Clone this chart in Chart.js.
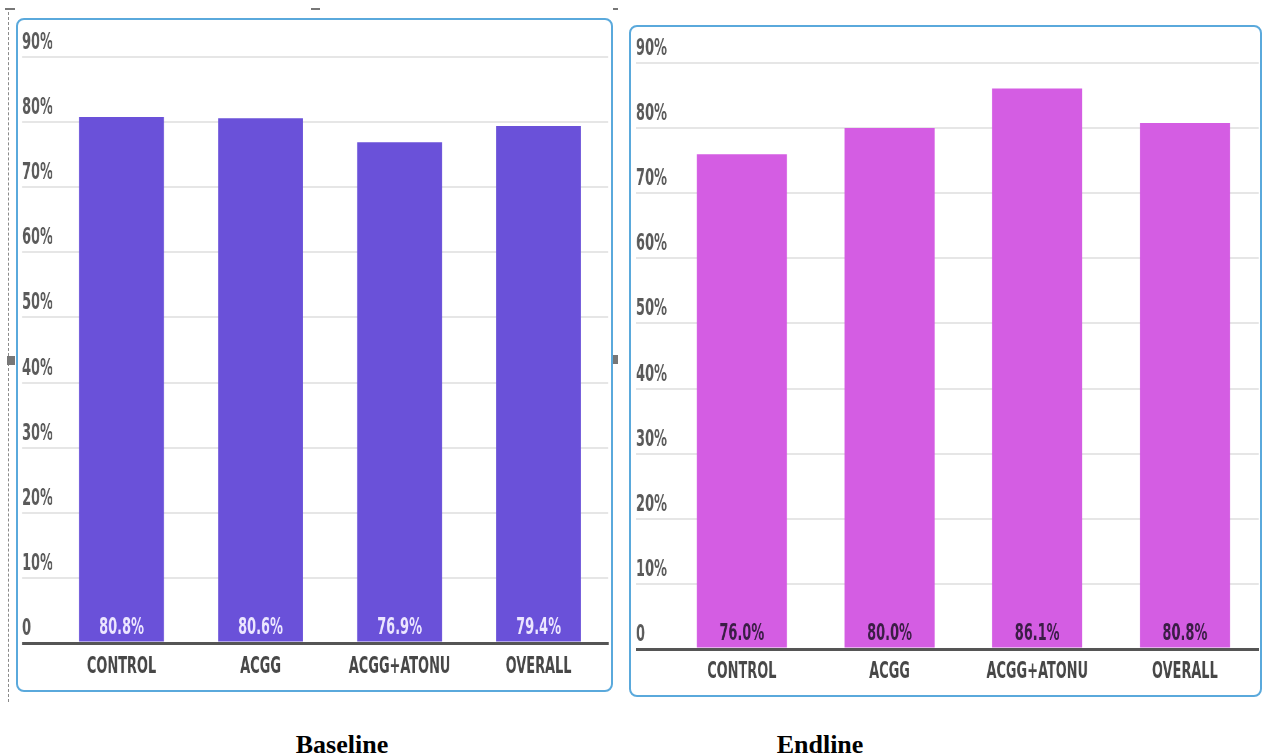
<!DOCTYPE html>
<html><head><meta charset="utf-8">
<script src="https://cdn.jsdelivr.net/npm/chart.js@4.4.1/dist/chart.umd.min.js"></script>
<style>
html,body{margin:0;padding:0;background:#fff;width:1263px;height:756px;overflow:hidden;position:relative}
.panel{position:absolute;border:2px solid #5aa9dc;border-radius:8px;overflow:hidden;box-sizing:border-box;background:#fff}
.panel canvas{position:absolute;left:0;top:0;transform-origin:0 0}
.title{position:absolute;top:730px;font:bold 26px "Liberation Serif","Times New Roman",serif;color:#000;transform:translateX(-50%);white-space:nowrap}
.deco{position:absolute;background:#777}
</style></head>
<body>
<div style="position:absolute;left:8px;top:12px;height:690px;border-left:1px dashed #8a8a8a"></div>
<div class="deco" style="left:5px;top:8px;width:10px;height:2px"></div>
<div class="deco" style="left:311px;top:8px;width:9px;height:2px"></div>
<div class="deco" style="left:613px;top:8px;width:5px;height:2px"></div>
<div class="deco" style="left:7px;top:356px;width:8px;height:9px"></div>
<div class="deco" style="left:612px;top:355px;width:6px;height:9px"></div>
<div class="panel" style="left:16px;top:18px;width:597px;height:674px"><canvas id="c1"></canvas></div>
<div class="panel" style="left:629px;top:25px;width:633px;height:672px"><canvas id="c2"></canvas></div>
<div class="title" style="left:342px">Baseline</div>
<div class="title" style="left:820px">Endline</div>
<script>
const categories = ['CONTROL', 'ACGG', 'ACGG+ATONU', 'OVERALL'];
const baselineValues = [80.8, 80.6, 76.9, 79.4];
const endlineValues = [76.0, 80.0, 86.1, 80.8];
const yTickValues = [0, 10, 20, 30, 40, 50, 60, 70, 80, 90];
const yTickLabels = ['0', '10%', '20%', '30%', '40%', '50%', '60%', '70%', '80%', '90%'];

const K = 1.6; // horizontal condensing of the drawing
const FONT = "'Liberation Sans Narrow', 'DejaVu Sans Condensed', Roboto, sans-serif";

const valueLabels = {
  id: 'valueLabels',
  afterDatasetsDraw(chart, args, opts) {
    const ctx = chart.ctx;
    const meta = chart.getDatasetMeta(0);
    const data = chart.data.datasets[0].data;
    ctx.save();
    ctx.font = opts.weight + ' 23px ' + FONT;
    ctx.fillStyle = opts.color;
    ctx.textAlign = 'center';
    ctx.textBaseline = 'middle';
    meta.data.forEach((bar, i) => {
      ctx.fillText(data[i].toFixed(1) + '%', bar.x, bar.base - opts.dy);
    });
    ctx.restore();
  }
};

function makeChart(id, values, color, g) {
  const cv = document.getElementById(id);
  const W = Math.round(g.w * K);
  cv.width = W; cv.height = g.h;
  cv.style.width = W + 'px'; cv.style.height = g.h + 'px';
  cv.style.transform = 'scaleX(' + (1 / K) + ')';
  return new Chart(cv, {
    type: 'bar',
    data: {
      labels: categories,
      datasets: [{ data: values, backgroundColor: color, borderWidth: 0, barPercentage: 0.61, categoryPercentage: 1 }]
    },
    plugins: [valueLabels],
    options: {
      responsive: false,
      animation: false,
      devicePixelRatio: 1,
      layout: { padding: { left: g.gridLeft * K, right: (g.w - g.plotRight) * K, top: g.top, bottom: 0 } },
      plugins: {
        legend: { display: false },
        tooltip: { enabled: false },
        valueLabels: { color: g.valColor, weight: g.valWeight, dy: g.valDy }
      },
      scales: {
        x: {
          z: 1,
          grid: { display: false, drawTicks: false },
          border: { display: true, color: '#555', width: 3 },
          ticks: { color: '#474747', font: { family: FONT, size: 23, weight: 'bold', lineHeight: 1.2 }, padding: g.xPad, maxRotation: 0, autoSkip: false },
          afterFit(s) { s.height = g.h - g.bottom; }
        },
        y: {
          min: 0, max: 90,
          afterBuildTicks(s) { s.ticks = yTickValues.map(v => ({ value: v })); },
          ticks: {
            callback: (v) => yTickLabels[yTickValues.indexOf(v)],
            crossAlign: 'far', labelOffset: -14, padding: 0,
            color: '#5a5a5a', font: { family: FONT, size: 23, weight: 'bold', lineHeight: 1.2 }
          },
          grid: {
            color: c => (c.tick && c.tick.value === 0) ? '#555' : '#e6e6e6',
            lineWidth: c => (c.tick && c.tick.value === 0) ? 3 : 2,
            drawTicks: true,
            tickLength: (g.plotLeft - g.gridLeft) * K
          },
          border: { display: false },
          afterFit(s) { s.width = (g.plotLeft - g.gridLeft) * K; }
        }
      }
    }
  });
}

makeChart('c1', baselineValues, '#6a51d9', {
  w: 593, h: 670, gridLeft: 4, plotLeft: 34, plotRight: 590, top: 37, bottom: 623,
  xPad: 10, valColor: '#ece6ff', valWeight: 'bold', valDy: 13.5
});
makeChart('c2', endlineValues, '#d45de3', {
  w: 629, h: 668, gridLeft: 5, plotLeft: 37, plotRight: 628, top: 36, bottom: 622,
  xPad: 9, valColor: '#3a1d45', valWeight: 'bold', valDy: 13
});
</script>
</body></html>
